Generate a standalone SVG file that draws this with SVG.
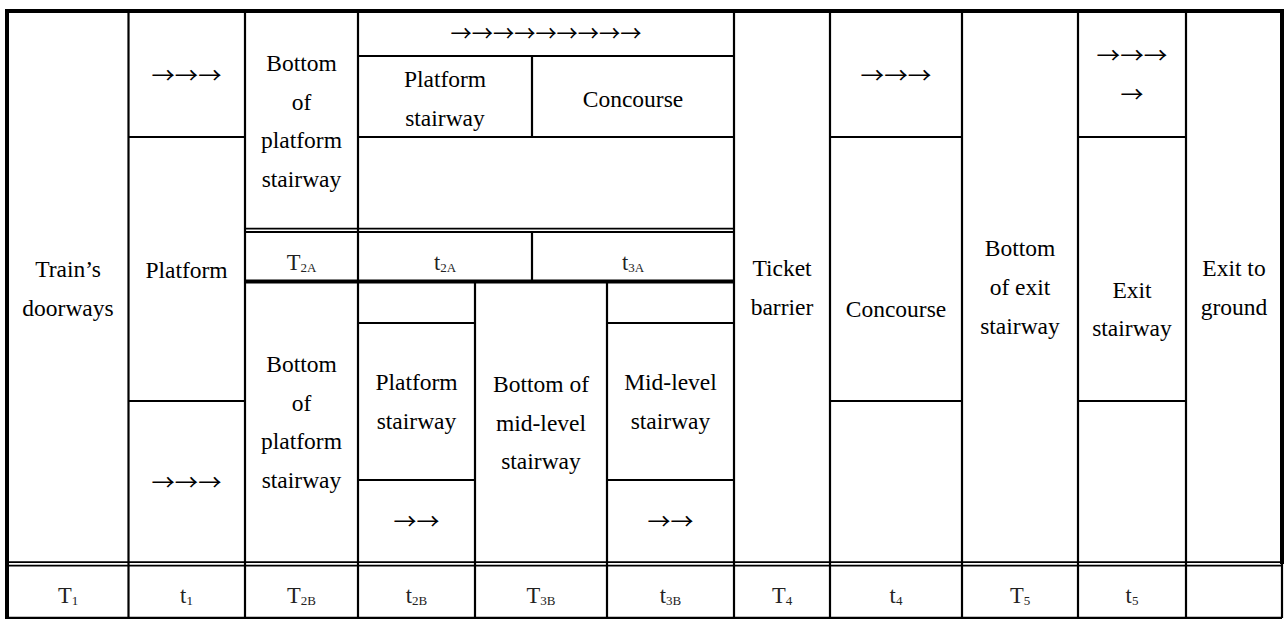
<svg xmlns="http://www.w3.org/2000/svg" width="1285" height="619" viewBox="0 0 1285 619">
<style>
.l{stroke:#000;stroke-width:2.2;fill:none}
.b{stroke:#000;stroke-width:4;fill:none}
.d{stroke:#000;stroke-width:1.8;fill:none}
.t{font-size:23.5px;fill:#000;text-anchor:middle}
.a{font-size:22px;fill:#000;text-anchor:middle}
.v{font-size:22.5px;fill:#222;text-anchor:middle}
.s{font-size:13px}
</style>
<rect width="1285" height="619" fill="#fff"/>
<g id="grid">
<path class="b" d="M5 11H1284M7 9V619M1282 9V564"/>
<path class="l" d="M1282 564V618M7 617.8H1282"/>
<path class="l" d="M128.5 11V618M245 11V618M358 11V618M734 11V618M830 11V618M962 11V618M1078 11V618M1186 11V618"/>
<path class="l" d="M358 56H734M128.5 137H245M358 137H734M830 137H962M1078 137H1186"/>
<path class="l" d="M532 56V137M532 232V280"/>
<path class="d" d="M245 228.6H734M245 232H734"/>
<path class="b" d="M245 281.5H734"/>
<path class="l" d="M475 283V618M607 283V618"/>
<path class="l" d="M358 323H475M607 323H734M358 480H475M607 480H734"/>
<path class="l" d="M128.5 401H245M830 401H962M1078 401H1186"/>
<path class="d" d="M7 562.2H1282M7 565.6H1282"/>
</g>
<g font-family="Liberation Serif, DejaVu Serif, serif">
<g id="n-doorways"><text class="t" x="68" y="277">Train’s</text><text class="t" x="68" y="315.5">doorways</text></g>
<g id="n-platform"><text class="t" x="186.5" y="278">Platform</text></g>
<g id="n-bottom-platform-stair-a"><text class="t" x="301.5" y="71">Bottom</text><text class="t" x="301.5" y="109.5">of</text><text class="t" x="301.5" y="148">platform</text><text class="t" x="301.5" y="186.5">stairway</text></g>
<g id="n-T2A"><text class="v" x="301.5" y="270">T<tspan class="s" dy="2">2A</tspan></text></g>
<g id="n-bottom-platform-stair-b"><text class="t" x="301.5" y="372">Bottom</text><text class="t" x="301.5" y="410.5">of</text><text class="t" x="301.5" y="449">platform</text><text class="t" x="301.5" y="487.5">stairway</text></g>
<g id="n-platform-stairway-a"><text class="t" x="445" y="87">Platform</text><text class="t" x="445" y="125.5">stairway</text></g>
<g id="n-concourse-a"><text class="t" x="633" y="107">Concourse</text></g>
<g id="n-t2A"><text class="v" x="445" y="270">t<tspan class="s" dy="2">2A</tspan></text></g>
<g id="n-t3A"><text class="v" x="633" y="270">t<tspan class="s" dy="2">3A</tspan></text></g>
<g id="n-platform-stairway-b"><text class="t" x="416.5" y="390">Platform</text><text class="t" x="416.5" y="428.5">stairway</text></g>
<g id="n-bottom-mid"><text class="t" x="541" y="392">Bottom of</text><text class="t" x="541" y="430.5">mid-level</text><text class="t" x="541" y="469">stairway</text></g>
<g id="n-mid-stairway"><text class="t" x="670.5" y="390">Mid-level</text><text class="t" x="670.5" y="428.5">stairway</text></g>
<g id="n-ticket"><text class="t" x="782" y="276">Ticket</text><text class="t" x="782" y="314.5">barrier</text></g>
<g id="n-concourse-b"><text class="t" x="896" y="317">Concourse</text></g>
<g id="n-bottom-exit"><text class="t" x="1020" y="256">Bottom</text><text class="t" x="1020" y="295">of exit</text><text class="t" x="1020" y="333.5">stairway</text></g>
<g id="n-exit-stairway"><text class="t" x="1132" y="297.5">Exit</text><text class="t" x="1132" y="336">stairway</text></g>
<g id="n-exit-ground"><text class="t" x="1234" y="276">Exit to</text><text class="t" x="1234" y="314.5">ground</text></g>
<g id="n-times">
<text class="v" x="68" y="603">T<tspan class="s" dy="2">1</tspan></text>
<text class="v" x="186.5" y="603">t<tspan class="s" dy="2">1</tspan></text>
<text class="v" x="301.5" y="603">T<tspan class="s" dy="2">2B</tspan></text>
<text class="v" x="416.5" y="603">t<tspan class="s" dy="2">2B</tspan></text>
<text class="v" x="541" y="603">T<tspan class="s" dy="2">3B</tspan></text>
<text class="v" x="670.5" y="603">t<tspan class="s" dy="2">3B</tspan></text>
<text class="v" x="782" y="603">T<tspan class="s" dy="2">4</tspan></text>
<text class="v" x="896" y="603">t<tspan class="s" dy="2">4</tspan></text>
<text class="v" x="1020" y="603">T<tspan class="s" dy="2">5</tspan></text>
<text class="v" x="1132" y="603">t<tspan class="s" dy="2">5</tspan></text>
</g>
</g>
<g font-family="Noto Sans CJK SC, DejaVu Sans, sans-serif">
<g id="n-platform-arrows-top"><text class="a" x="186.5" y="83" textLength="70" lengthAdjust="spacingAndGlyphs">→→→</text></g>
<g id="n-platform-arrows-bottom"><text class="a" x="186.5" y="490" textLength="70" lengthAdjust="spacingAndGlyphs">→→→</text></g>
<g id="n-top-arrows"><text class="a" x="546" y="41" textLength="191" lengthAdjust="spacingAndGlyphs">→→→→→→→→→</text></g>
<g id="n-arrows-2b"><text class="a" x="416.5" y="529" textLength="46" lengthAdjust="spacingAndGlyphs">→→</text></g>
<g id="n-arrows-3b"><text class="a" x="670.5" y="529" textLength="46" lengthAdjust="spacingAndGlyphs">→→</text></g>
<g id="n-concourse-arrows"><text class="a" x="896" y="83" textLength="71" lengthAdjust="spacingAndGlyphs">→→→</text></g>
<g id="n-exit-arrows"><text class="a" x="1132" y="63" textLength="71" lengthAdjust="spacingAndGlyphs">→→→</text><text class="a" x="1132" y="102" textLength="23" lengthAdjust="spacingAndGlyphs">→</text></g>
</g>
</svg>
